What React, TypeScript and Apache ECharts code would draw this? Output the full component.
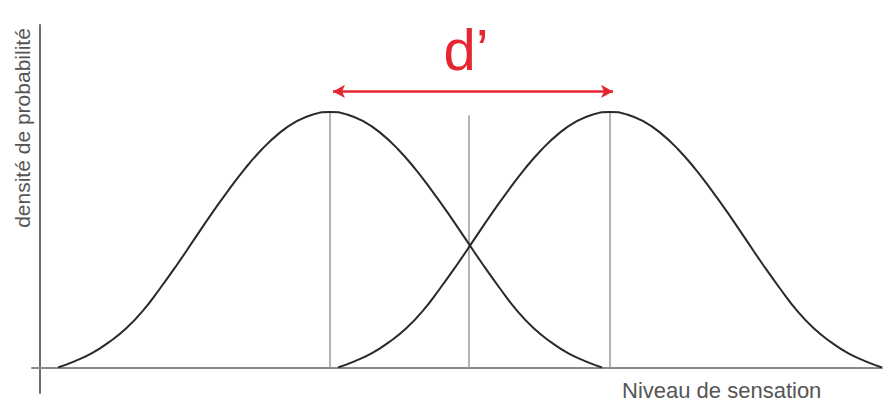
import React, { useEffect, useRef } from "react";
import * as echarts from "echarts";

// Density heights (peak = 100) sampled along each curve
const densityLevels = [0, 2.5, 5.6, 9.9, 15.2, 22.2, 30.9, 40.2, 50, 59.8, 69.1, 77.8, 85.4, 91.6, 96.2, 99.0, 100, 99.0, 96.2, 91.6, 85.4, 77.8, 69.1, 59.8, 50, 40.2, 30.9, 22.2, 15.2, 9.9, 5.6, 2.5, 0];
const leftX = [18, 35, 52, 69, 86, 103, 120, 137, 154, 171, 188, 205, 222, 239, 256, 273, 290, 307, 324, 341, 358, 375, 392, 409, 426, 443, 460, 477, 494, 511, 528, 545, 562];
const rightX = [298, 315, 332, 349, 366, 383, 400, 417, 434, 451, 468, 485, 502, 519, 536, 553, 570, 587, 604, 621, 638, 655, 672, 689, 706, 723, 740, 757, 774, 791, 808, 825, 842];
const markerX = [290, 429, 570];
const markerTop = [100, 98.7, 100];
const arrowFrom = [293, 108];
const arrowTo = [573, 108];
const yLabel = "densité de probabilité";
const xLabel = "Niveau de sensation";
const dLabel = "d’";

export default function App() {
  const ref = useRef<HTMLDivElement>(null);
  useEffect(() => {
    if (!ref.current) return;
    const chart = echarts.init(ref.current, null, { renderer: "svg" });
    const curve = (xs: number[]) => xs.map((x, i) => [x, densityLevels[i]]);
    const markers = markerX.map((x, i) => ({
      type: "line",
      data: [[x, 0], [x, markerTop[i]]],
      symbol: "none",
      lineStyle: { color: "#9a9a9a", width: 1.5 },
      silent: true,
      z: 1,
    }));
    chart.setOption({
      animation: false,
      grid: { left: 32, right: 9, top: 25, bottom: 8 },
      xAxis: {
        type: "value",
        min: -8,
        max: 842,
        axisLine: { show: true, onZero: true, lineStyle: { color: "#8a8a8a", width: 2 } },
        axisTick: { show: false },
        axisLabel: { show: false },
        splitLine: { show: false },
      },
      yAxis: {
        type: "value",
        min: -10,
        max: 134,
        axisLine: { show: true, onZero: true, lineStyle: { color: "#6e6e6e", width: 2 } },
        axisTick: { show: false },
        axisLabel: { show: false },
        splitLine: { show: false },
      },
      series: [
        ...markers,
        {
          type: "line",
          data: curve(leftX),
          smooth: true,
          symbol: "none",
          lineStyle: { color: "#2a2a2a", width: 2 },
          z: 3,
        },
        {
          type: "line",
          data: curve(rightX),
          smooth: true,
          symbol: "none",
          lineStyle: { color: "#2a2a2a", width: 2 },
          z: 3,
        },
        {
          type: "line",
          data: [],
          markLine: {
            silent: true,
            symbol: ["arrow", "arrow"],
            symbolSize: [10, 12],
            label: { show: false },
            lineStyle: { color: "#e3262f", width: 2.5, type: "solid" },
            data: [[{ coord: arrowFrom }, { coord: arrowTo }]],
          },
        },
      ],
      graphic: [
        {
          type: "text",
          x: 22,
          y: 128,
          rotation: Math.PI / 2,
          style: {
            text: yLabel,
            fontFamily: "Liberation Sans, Arial, sans-serif",
            fontSize: 21,
            fill: "#555",
            textAlign: "center",
            textVerticalAlign: "middle",
          },
        },
        {
          type: "text",
          x: 622,
          y: 390,
          style: {
            text: xLabel,
            fontFamily: "Liberation Sans, Arial, sans-serif",
            fontSize: 22,
            fill: "#555",
            textAlign: "left",
            textVerticalAlign: "middle",
          },
        },
        {
          type: "text",
          x: 466,
          y: 49,
          style: {
            text: dLabel,
            fontFamily: "Liberation Sans, Arial, sans-serif",
            fontSize: 58,
            fill: "#e3262f",
            textAlign: "center",
            textVerticalAlign: "middle",
          },
        },
      ],
    });
    return () => chart.dispose();
  }, []);
  return (
    <div
      ref={ref}
      style={{ position: "fixed", left: 0, top: 0, width: 891, height: 401, background: "#fff" }}
    />
  );
}
